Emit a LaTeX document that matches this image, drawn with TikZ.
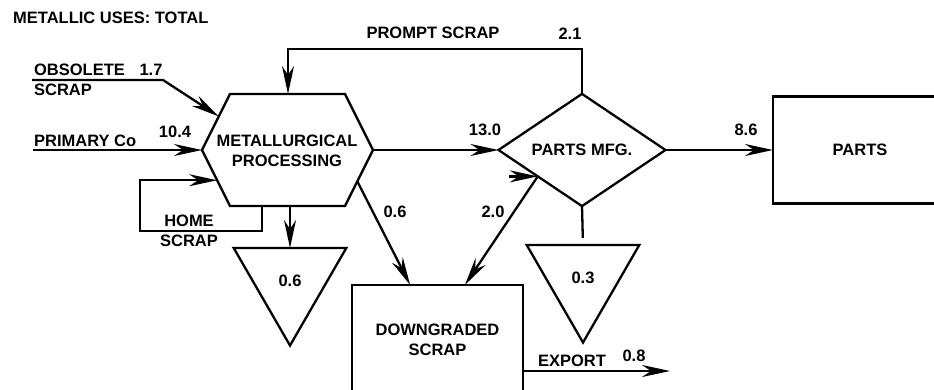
\documentclass[tikz,border=0pt]{standalone}
\usepackage{fontspec}
\setmainfont{Liberation Sans}
\usetikzlibrary{arrows.meta, positioning, calc, shapes.geometric}

\begin{document}
\begin{tikzpicture}[
    x=1pt, y=-1pt,
    font=\fontsize{16.5}{20}\selectfont\bfseries,
    >= {Stealth[length=28pt, width=12pt, inset=9pt]},
    line width=2.3pt,
    lbl/.style={inner sep=0pt},
    box/.style={draw, rectangle, inner sep=0pt, outer sep=0pt, align=center},
    mfgshape/.style={draw, diamond, minimum width=167pt, minimum height=109pt, inner sep=0pt, outer sep=0pt},
    sink/.style={draw, regular polygon, regular polygon sides=3, shape border rotate=180,
                 minimum size=130pt, inner sep=0pt, outer sep=0pt},
    ]

    \useasboundingbox (0,0) rectangle (934,389);
    \clip (0,0) rectangle (934,389);

    % ==========================================
    % Title
    % ==========================================
    \node[lbl, anchor=west] (title) at (12,18) {METALLIC USES: TOTAL};

    % ==========================================
    % Metallurgical processing (hexagon)
    % ==========================================
    \coordinate (mp-w)  at (202,150);
    \coordinate (mp-nw) at (230,94);
    \coordinate (mp-ne) at (345,94);
    \coordinate (mp-e)  at (373,150);
    \coordinate (mp-se) at (345,206);
    \coordinate (mp-sw) at (230,206);
    \draw (mp-w) -- (mp-nw) -- (mp-ne) -- (mp-e) -- (mp-se) -- (mp-sw) -- cycle;
    \node[lbl, align=center] (mp) at (287,151) {METALLURGICAL\\PROCESSING};

    % anchor points on the hexagon border
    \coordinate (mp-n)    at (288,94);
    \coordinate (mp-home) at (262,206);
    \coordinate (mp-loss) at (290,206);
    \coordinate (mp-obs)  at ($(mp-w)!0.6!(mp-nw)$);
    \coordinate (mp-back) at ($(mp-w)!0.54!(mp-sw)$);
    \coordinate (mp-down) at ($(mp-e)!0.56!(mp-se)$);

    % ==========================================
    % Other blocks
    % ==========================================
    \node[mfgshape] (mfg) at (582,150) {PARTS MFG.};
    \node[box, minimum width=174pt, minimum height=107pt] (parts) at (860,150) {PARTS};
    \node[box, minimum width=171pt, minimum height=110pt, anchor=north west] (dgs) at (352,285) {DOWNGRADED\\SCRAP};

    \foreach \name/\x/\y/\val in {
        loss-mp/290/280.5/0.6,
        loss-mfg/583/277.5/0.3}
    {
        \node[sink] (\name) at (\x,\y) {\val};
    }

    % ==========================================
    % Inputs
    % ==========================================
    \coordinate (obs) at (32,80);
    \coordinate (pri) at (33,150);
    \draw[->] (obs) -- ++(131,0) -- (mp-obs);
    \node[lbl, anchor=west, align=left] (obs-lbl) at (33,80) {OBSOLETE\\SCRAP};
    \node[lbl] (obs-val) at (151,70) {1.7};

    \draw[->] (pri) -- (mp-w);
    \node[lbl, anchor=west] (pri-lbl) at (33,141) {PRIMARY Co};
    \node[lbl] (pri-val) at (175,132) {10.4};

    % home scrap loop
    \draw[->] (mp-home) |- (140,231) |- (mp-back);
    \node[lbl, align=center] (home-lbl) at (189,231) {HOME\\SCRAP};

    % ==========================================
    % Flows
    % ==========================================
    \draw[->] (mfg.north) |- ($(mp-n)+(0,-45)$) -- (mp-n);
    \node[lbl] (prompt-lbl) at (433,33) {PROMPT SCRAP};
    \node[lbl] (prompt-val) at (570,34) {2.1};

    \draw[->] (mp-e) -- (mfg.west);
    \node[lbl] (mfg-val) at (485,130) {13.0};

    \draw[->] (mfg.east) -- (parts.west);
    \node[lbl] (parts-val) at (746,130) {8.6};

    \draw[->] (mp-loss) -- (loss-mp.north);
    \draw[shorten >=7pt] (mfg.south) -- (loss-mfg.north);

    \draw[->] (mp-down) -- ($(dgs.north west)!0.34!(dgs.north east)$);
    \node[lbl] (down-val) at (395,212) {0.6};

    \coordinate (mfg-down) at ($(mfg.west)!0.47!(mfg.south)$);
    \draw[->] (mfg-down) -- ($(dgs.north west)!0.66!(dgs.north east)$);
    \draw[->] ($(mfg-down)+(-29,0)$) -- (mfg-down);
    \node[lbl] (back-val) at (493,212) {2.0};

    \coordinate (exp) at (670,371);
    \draw[->] (dgs.east |- exp) -- (exp);
    \node[lbl] (exp-lbl) at (572,361) {EXPORT};
    \node[lbl] (exp-val) at (634,356) {0.8};

\end{tikzpicture}
\end{document}
